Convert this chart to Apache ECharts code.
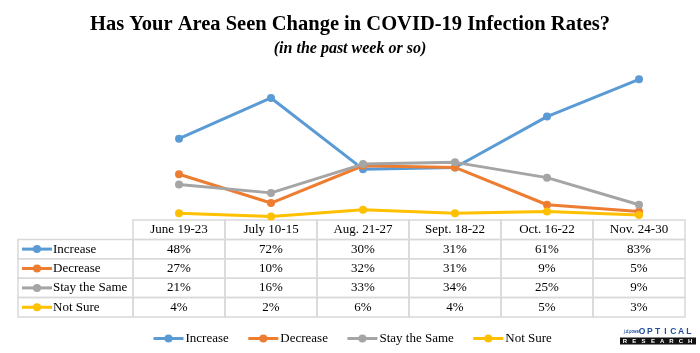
<!DOCTYPE html>
<html>
<head>
<meta charset="utf-8">
<script src="https://cdn.jsdelivr.net/npm/echarts@6/dist/echarts.min.js"></script>
<style>
  html, body {margin: 0; padding: 0; background: #fff;}
  #chart {width: 700px; height: 353px;}
</style>
</head>
<body>
<div id="chart"></div>
<script>
const categories = ['June 19-23', 'July 10-15', 'Aug. 21-27', 'Sept. 18-22', 'Oct. 16-22', 'Nov. 24-30']
const seriesNames = ['Increase', 'Decrease', 'Stay the Same', 'Not Sure']
const increase = [48, 72, 30, 31, 61, 83]
const decrease = [27, 10, 32, 31, 9, 5]
const stayTheSame = [21, 16, 33, 34, 25, 9]
const notSure = [4, 2, 6, 4, 5, 3]
const colors = ['#5B9BD5', '#ED7D31', '#A5A5A5', '#FFC000']

const values = [increase, decrease, stayTheSame, notSure]

// table layout (matches grid so columns sit under the points)
const colX0 = 133
const colW = 92
const labelX0 = 18
const tableY0 = 220
const rowH = 19.4
const border = '#d9d9d9'
const serif = '"Liberation Serif", "Times New Roman", serif'
const sans = '"Liberation Sans", Arial, sans-serif'

const table = []
categories.forEach((cat, i) => {
  table.push({
    type: 'rect', shape: {x: colX0 + i * colW, y: tableY0, width: colW, height: rowH},
    style: {fill: 'none', stroke: border, lineWidth: 1.5}
  })
  table.push({
    type: 'text', x: colX0 + i * colW + colW / 2, y: tableY0 + rowH / 2,
    style: {text: cat, font: '13px ' + serif, fill: '#000', align: 'center', verticalAlign: 'middle'}
  })
})
seriesNames.forEach((name, r) => {
  const y = tableY0 + rowH * (r + 1)
  table.push({
    type: 'rect', shape: {x: labelX0, y: y, width: colX0 - labelX0, height: rowH},
    style: {fill: 'none', stroke: border, lineWidth: 1.5}
  })
  table.push({
    type: 'line', shape: {x1: labelX0 + 4, y1: y + rowH / 2, x2: labelX0 + 34, y2: y + rowH / 2},
    style: {stroke: colors[r], lineWidth: 3}
  })
  table.push({
    type: 'circle', shape: {cx: labelX0 + 19, cy: y + rowH / 2, r: 4},
    style: {fill: colors[r]}
  })
  table.push({
    type: 'text', x: labelX0 + 35, y: y + rowH / 2,
    style: {text: name, font: '13px ' + serif, fill: '#000', align: 'left', verticalAlign: 'middle'}
  })
  values[r].forEach((v, i) => {
    table.push({
      type: 'rect', shape: {x: colX0 + i * colW, y: y, width: colW, height: rowH},
      style: {fill: 'none', stroke: border, lineWidth: 1.5}
    })
    table.push({
      type: 'text', x: colX0 + i * colW + colW / 2, y: y + rowH / 2,
      style: {text: v + '%', font: '13px ' + serif, fill: '#000', align: 'center', verticalAlign: 'middle'}
    })
  })
})

// little logo bottom right, letters spread out by hand
const logoBlue = '#1f4e9c'
const logo = [
  {type: 'text', x: 624, y: 331.5, scaleX: 0.6, style: {text: 'j.d.power', font: 'italic bold 6px ' + sans, fill: logoBlue, verticalAlign: 'middle'}},
  {type: 'rect', shape: {x: 620, y: 337.5, width: 76, height: 7}, style: {fill: '#111'}}
]
'OPTICAL'.split('').forEach((ch, i) => {
  logo.push({type: 'text', x: 642 + i * 7.8, y: 331.5,
    style: {text: ch, font: 'bold 8.5px ' + sans, fill: logoBlue, align: 'center', verticalAlign: 'middle'}})
})
'RESEARCH'.split('').forEach((ch, i) => {
  logo.push({type: 'text', x: 625 + i * 9.3, y: 341.2,
    style: {text: ch, font: 'bold 6px ' + sans, fill: '#fff', align: 'center', verticalAlign: 'middle'}})
})

const chart = echarts.init(document.getElementById('chart'), null, {renderer: 'canvas'})
chart.setOption({
  animation: false,
  backgroundColor: '#fff',
  title: {
    text: 'Has Your Area Seen Change in COVID-19 Infection Rates?',
    subtext: '(in the past week or so)',
    left: 'center',
    top: 9,
    itemGap: 6,
    textStyle: {fontFamily: serif, fontWeight: 'bold', fontSize: 20.5, color: '#000'},
    subtextStyle: {fontFamily: serif, fontWeight: 'bold', fontStyle: 'italic', fontSize: 16, color: '#000'}
  },
  legend: {
    data: seriesNames,
    left: 147,
    top: 327,
    itemWidth: 30,
    itemHeight: 10,
    itemGap: 18,
    lineStyle: {width: 3},
    textStyle: {fontFamily: serif, fontSize: 13, color: '#000', padding: [0, 0, 0, -3]}
  },
  grid: {left: colX0, right: 700 - (colX0 + colW * categories.length), top: 50.5, bottom: 353 - tableY0},
  xAxis: {
    type: 'category',
    data: categories,
    boundaryGap: true,
    show: false
  },
  yAxis: {type: 'value', min: 0, max: 100, show: false},
  series: seriesNames.map((name, r) => ({
    name: name,
    type: 'line',
    data: values[r],
    symbol: 'circle',
    symbolSize: 8,
    itemStyle: {color: colors[r]},
    lineStyle: {color: colors[r], width: 3}
  })),
  graphic: table.concat(logo)
})
</script>
</body>
</html>
